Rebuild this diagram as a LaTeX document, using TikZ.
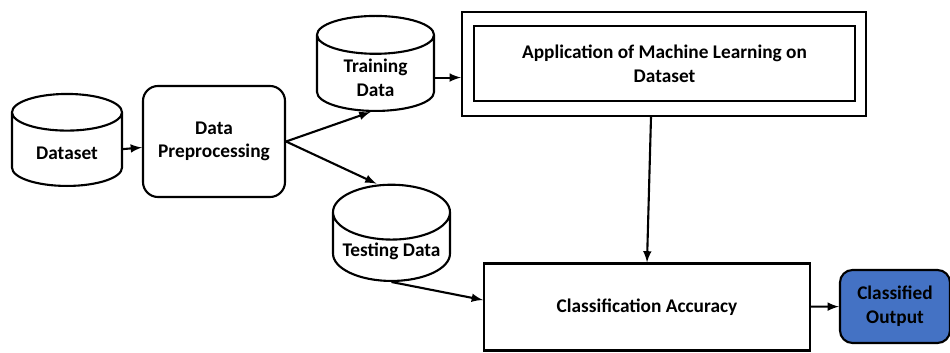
\documentclass[tikz,border=0pt]{standalone}
\usepackage{fontspec}
\setmainfont{Carlito}
\usetikzlibrary{shapes.geometric}
\definecolor{outblue}{HTML}{4472C4}
\tikzset{
  db/.style={draw, line width=1.2pt, cylinder, shape border rotate=90, aspect=0.5, inner ysep=1.5pt, anchor=south, align=center, font=\fontsize{11}{13.5}\selectfont\bfseries},
  box/.style={draw, line width=1.2pt, rectangle, align=center, font=\fontsize{11}{13.5}\selectfont\bfseries},
  arr/.style={-latex, line width=1.2pt}
}
\begin{document}
\begin{tikzpicture}
\useasboundingbox (0,0) rectangle (19,7.04);

\node [db, minimum width=2.2cm, minimum height=1.84cm] (ds) at (1.34,3.30) {Dataset};
\node [db, minimum width=2.34cm, minimum height=1.9cm] (trn) at (7.51,4.80) {Training\\Data};
\node [db, minimum width=2.34cm, minimum height=1.74cm, text depth=0.12cm] (tst) at (7.83,1.40) {Testing Data};
\node [box, rounded corners=0.3cm, minimum width=2.84cm, minimum height=2.22cm] (pre) at (4.28,4.21) {Data\\Preprocessing};
\node [box, minimum width=8.08cm, minimum height=2.08cm] (appout) at (13.28,5.76) {};
\node [box, minimum width=7.62cm, minimum height=1.5cm] (appin) at (13.29,5.77) {Application of Machine Learning on\\Dataset};
\node [box, minimum width=6.52cm, minimum height=1.74cm] (ca) at (12.94,0.90) {Classification Accuracy};
\node [box, rounded corners=0.25cm, fill=outblue, minimum width=2.2cm, minimum height=1.46cm] (co) at (17.9,0.91) {Classified\\Output};

\draw [arr] (ds) -- (pre);
\draw [arr] (pre.east) -- ([xshift=-0.1cm]trn.south);
\draw [arr] (pre.east) -- ([xshift=-0.3cm]tst.north);
\draw [arr] (trn.east) -- (trn.east -| appout.west);
\draw [arr] ([xshift=-0.26cm]appout.south) -- (ca.north);
\draw [arr] (tst.south) -- ([yshift=0.14cm]ca.west);
\draw [arr] (ca) -- (co);
\end{tikzpicture}
\end{document}
